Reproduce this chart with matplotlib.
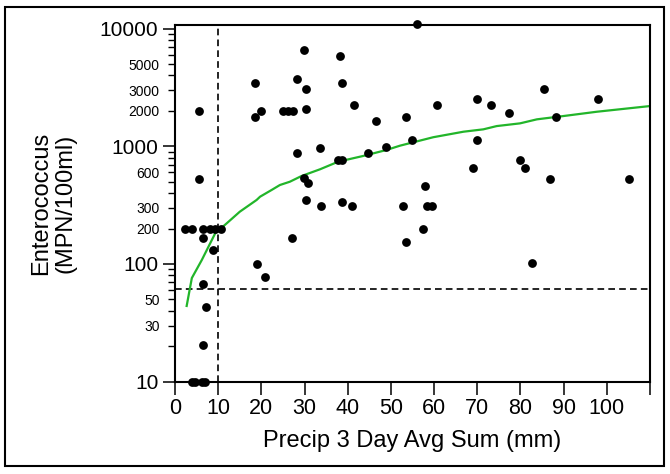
import matplotlib
matplotlib.use("Agg")
import matplotlib.pyplot as plt
from matplotlib.ticker import FixedLocator, FuncFormatter
from matplotlib.patches import Rectangle

plt.rcParams['font.family'] = ['Liberation Sans', 'DejaVu Sans']

# ---- data ----
precip = [2.3, 3.9, 6.6, 8.0, 9.3, 10.6,
          6.6, 8.9, 6.6, 7.1, 6.6,
          3.9, 4.7, 6.2, 7.0,
          5.6, 5.6,
          18.5, 18.5, 19.8, 24.9, 26.1, 27.4,
          18.9, 20.8,
          28.2, 29.9, 30.4, 30.4,
          28.2, 29.9, 30.9, 30.3, 27.2,
          33.6, 33.7,
          38.2, 38.7, 41.4,
          37.7, 38.6, 38.7, 41.0,
          44.6, 46.5, 48.8,
          52.9, 53.4, 53.4, 54.8,
          56.1,
          57.5, 57.9, 58.3, 59.4,
          60.7,
          68.9, 69.9, 69.9, 73.1, 77.3,
          79.9, 81.0, 82.7,
          85.5, 86.8, 88.2,
          97.9, 105.2]
entero = [200, 200, 200, 200, 200, 200,
          165, 131, 68, 43, 20.5,
          10, 10, 10, 10,
          2000, 530,
          3450, 1780, 2000, 2000, 2000, 2000,
          100, 77,
          3700, 6600, 3050, 2080,
          880, 535, 490, 350, 167,
          960, 311,
          5900, 3440, 2250,
          770, 770, 336, 311,
          880, 1650, 990,
          311, 155, 1780, 1120,
          11000,
          200, 460, 311, 311,
          2250,
          650, 2500, 1120, 2250, 1900,
          770, 650, 101,
          3050, 530, 1760,
          2500, 530]

curve_x = [2.7, 3.9, 6.2, 9.3, 12, 15, 18.9, 19.7, 22.4, 24.3, 26.6, 29.3, 33.6,
           37.8, 43.6, 49, 52.1, 56.7, 59.8, 66.8, 71.4, 74.5, 79.9, 83.8,
           89.9, 97.7, 110]
curve_y = [44, 76, 108, 182, 222, 278, 350, 373, 426, 469, 500, 559, 638,
           740, 828, 931, 1012, 1117, 1194, 1330, 1393, 1485, 1566, 1694,
           1806, 1966, 2197]

x_ticks = [0, 10, 20, 30, 40, 50, 60, 70, 80, 90, 100, 110]
x_tick_labels = ['0', '10', '20', '30', '40', '50', '60', '70', '80', '90', '100', '']
y_major = [10, 100, 1000, 10000]
y_minor_labeled = [30, 50, 200, 300, 600, 2000, 3000, 5000]
threshold_x = 10
threshold_y = 61

# ---- figure ----
fig = plt.figure(figsize=(6.7, 4.74), dpi=100)
ax = fig.add_axes([175/670, 1-381.7/474, 475/670, 357/474])

ax.scatter(precip, entero, s=40, color='black', zorder=3, clip_on=False, linewidths=0)
ax.plot(curve_x, curve_y, color='#22b52a', lw=1.6, zorder=2)
ax.axvline(threshold_x, color='black', lw=1.2, ls=(0, (4, 2.5)), zorder=1)
ax.axhline(threshold_y, color='black', lw=1.2, ls=(0, (4, 2.5)), zorder=1)

ax.set_yscale('log')
ax.set_xlim(0, 110)
ax.set_ylim(10, 10**4.033)

ax.xaxis.set_major_locator(FixedLocator(x_ticks))
ax.set_xticklabels(x_tick_labels)
ax.yaxis.set_major_locator(FixedLocator(y_major))
ax.yaxis.set_major_formatter(FuncFormatter(lambda v, p: f"{int(round(v))}"))
minors = [m * d for d in (10, 100, 1000) for m in range(2, 10)]
ax.yaxis.set_minor_locator(FixedLocator(minors))
ax.yaxis.set_minor_formatter(FuncFormatter(
    lambda v, p: f"{int(round(v))}" if int(round(v)) in y_minor_labeled else ""))

ax.tick_params(axis='x', which='major', direction='out', length=9, width=1.1,
               labelsize=15.5, pad=3)
ax.tick_params(axis='y', which='major', direction='out', length=9, width=1.1,
               labelsize=15, pad=3)
ax.tick_params(axis='y', which='minor', direction='out', length=5, width=1.0,
               labelsize=10, pad=6)

for s in ax.spines.values():
    s.set_linewidth(1.5)
    s.set_color('black')

fig.text(412/670, 1-441/474, "Precip 3 Day Avg Sum (mm)", ha='center', va='center',
         fontsize=17)
fig.text(53/670, 1-203/474, "Enterococcus\n(MPN/100ml)", ha='center', va='center',
         rotation=90, fontsize=17, multialignment='center', linespacing=1.15)

fig.patches.append(Rectangle((5/670, 1-466/474), 659/670, 459/474,
                             transform=fig.transFigure, fill=False,
                             edgecolor='black', lw=1.5))

fig.savefig("out.png", dpi=100)
